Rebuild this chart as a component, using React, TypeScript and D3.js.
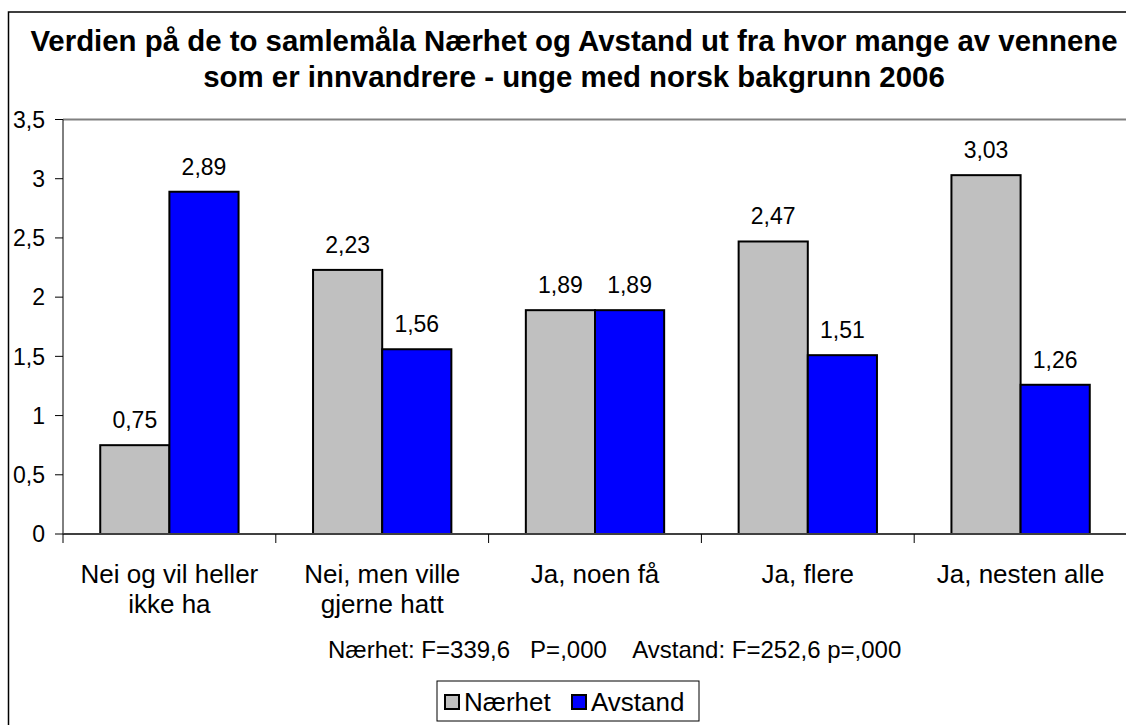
import React, { useEffect, useRef } from 'react';
import * as d3 from 'd3';

const categories = [
  ['Nei og vil heller', 'ikke ha'],
  ['Nei, men ville', 'gjerne hatt'],
  ['Ja, noen få'],
  ['Ja, flere'],
  ['Ja, nesten alle'],
];
const seriesNames = ['Nærhet', 'Avstand'];
const seriesColors = ['#c0c0c0', '#0000ff'];
const naerhet = [0.75, 2.23, 1.89, 2.47, 3.03];
const avstand = [2.89, 1.56, 1.89, 1.51, 1.26];
const yTicks = [0, 0.5, 1, 1.5, 2, 2.5, 3, 3.5];
const titleLines = [
  'Verdien på de to samlemåla Nærhet og Avstand ut fra hvor mange av vennene',
  'som er innvandrere - unge med norsk bakgrunn 2006',
];
const statsNote = 'Nærhet: F=339,6   P=,000    Avstand: F=252,6 p=,000';

const FONT = '"Liberation Sans", Arial, sans-serif';

const App: React.FC = () => {
  const svgRef = useRef<SVGSVGElement>(null);

  useEffect(() => {
    if (!svgRef.current) return;
    const svg = d3.select(svgRef.current);
    svg.selectAll('*').remove();

    const width = 1126;
    const height = 725;
    const plot = { left: 63, right: 1127, top: 119.5, bottom: 534 };

    const fmt = (v: number) => String(v).replace('.', ',');

    // outer chart border (runs off the right and bottom edges)
    svg.append('rect')
      .attr('x', 8.5).attr('y', 12)
      .attr('width', 1300).attr('height', 900)
      .attr('fill', '#fff')
      .attr('stroke', '#000').attr('stroke-width', 1.5);

    // title
    svg.append('text')
      .attr('x', 574).attr('y', 51)
      .attr('text-anchor', 'middle')
      .attr('font-family', FONT).attr('font-weight', 'bold').attr('font-size', 29.4)
      .selectAll('tspan')
      .data(titleLines)
      .join('tspan')
      .attr('x', 574)
      .attr('dy', (_, i) => (i === 0 ? 0 : 36))
      .text(d => d);

    const x = d3.scaleBand<number>()
      .domain(d3.range(categories.length))
      .range([plot.left, plot.right])
      .padding(0);

    const groupW = x.bandwidth() * 0.65;
    const xs = d3.scaleBand<number>()
      .domain([0, 1])
      .range([(x.bandwidth() - groupW) / 2, (x.bandwidth() + groupW) / 2]);

    const y = d3.scaleLinear().domain([0, 3.5]).range([plot.bottom, plot.top]);

    // plot area top border
    svg.append('line')
      .attr('x1', plot.left).attr('x2', width)
      .attr('y1', y(3.5)).attr('y2', y(3.5))
      .attr('stroke', '#808080').attr('stroke-width', 2);

    // bars
    const values = [naerhet, avstand];
    const g = svg.append('g');
    values.forEach((vals, s) => {
      g.selectAll(`rect.s${s}`)
        .data(vals)
        .join('rect')
        .attr('class', `s${s}`)
        .attr('x', (_, i) => (x(i) as number) + (xs(s) as number))
        .attr('y', d => y(d))
        .attr('width', xs.bandwidth())
        .attr('height', d => y(0) - y(d))
        .attr('fill', seriesColors[s])
        .attr('stroke', '#000').attr('stroke-width', 2);

      g.selectAll(`text.l${s}`)
        .data(vals)
        .join('text')
        .attr('class', `l${s}`)
        .attr('x', (_, i) => (x(i) as number) + (xs(s) as number) + xs.bandwidth() / 2)
        .attr('y', d => y(d) - 17)
        .attr('text-anchor', 'middle')
        .attr('font-family', FONT).attr('font-size', 23)
        .text(d => fmt(d));
    });

    // y axis
    svg.append('line')
      .attr('x1', plot.left).attr('x2', plot.left)
      .attr('y1', plot.top).attr('y2', plot.bottom)
      .attr('stroke', '#000').attr('stroke-width', 1);
    const yt = svg.append('g');
    yt.selectAll('line')
      .data(yTicks)
      .join('line')
      .attr('x1', plot.left - 8).attr('x2', plot.left)
      .attr('y1', d => y(d)).attr('y2', d => y(d))
      .attr('stroke', '#000');
    yt.selectAll('text')
      .data(yTicks)
      .join('text')
      .attr('x', 45)
      .attr('y', d => y(d))
      .attr('dy', '0.36em')
      .attr('text-anchor', 'end')
      .attr('font-family', FONT).attr('font-size', 23)
      .text(d => fmt(d));

    // x axis
    svg.append('line')
      .attr('x1', plot.left).attr('x2', width)
      .attr('y1', plot.bottom).attr('y2', plot.bottom)
      .attr('stroke', '#404040').attr('stroke-width', 2);
    svg.append('g')
      .selectAll('line')
      .data(d3.range(categories.length + 1))
      .join('line')
      .attr('x1', i => plot.left + i * x.bandwidth())
      .attr('x2', i => plot.left + i * x.bandwidth())
      .attr('y1', plot.bottom).attr('y2', plot.bottom + 9)
      .attr('stroke', '#000');

    const cl = svg.append('g')
      .selectAll('text')
      .data(categories)
      .join('text')
      .attr('text-anchor', 'middle')
      .attr('font-family', FONT).attr('font-size', 26)
      .attr('y', 583);
    cl.selectAll('tspan')
      .data((d, i) => d.map(t => ({ t, i })))
      .join('tspan')
      .attr('x', d => (x(d.i) as number) + x.bandwidth() / 2)
      .attr('dy', (_, j) => (j === 0 ? 0 : 30))
      .text(d => d.t);

    // stats note
    svg.append('text')
      .attr('x', 328).attr('y', 658)
      .attr('font-family', FONT).attr('font-size', 24)
      .attr('xml:space', 'preserve')
      .style('white-space', 'pre')
      .text(statsNote);

    // legend
    const lg = svg.append('g');
    lg.append('rect')
      .attr('x', 437).attr('y', 681)
      .attr('width', 262).attr('height', 40)
      .attr('fill', '#fff').attr('stroke', '#000').attr('stroke-width', 1);
    const legendX = [445, 572];
    seriesNames.forEach((name, s) => {
      lg.append('rect')
        .attr('x', legendX[s]).attr('y', 695)
        .attr('width', 14).attr('height', 14)
        .attr('fill', seriesColors[s]).attr('stroke', '#000').attr('stroke-width', 2);
      lg.append('text')
        .attr('x', legendX[s] + 19).attr('y', 711)
        .attr('font-family', FONT).attr('font-size', 26)
        .text(name);
    });

    svg.attr('width', width).attr('height', height);
  }, []);

  return (
    <div style={{ position: 'absolute', left: 0, top: 0, background: '#fff' }}>
      <svg ref={svgRef} width={1126} height={725} style={{ display: 'block' }}></svg>
    </div>
  );
};

export default App;
